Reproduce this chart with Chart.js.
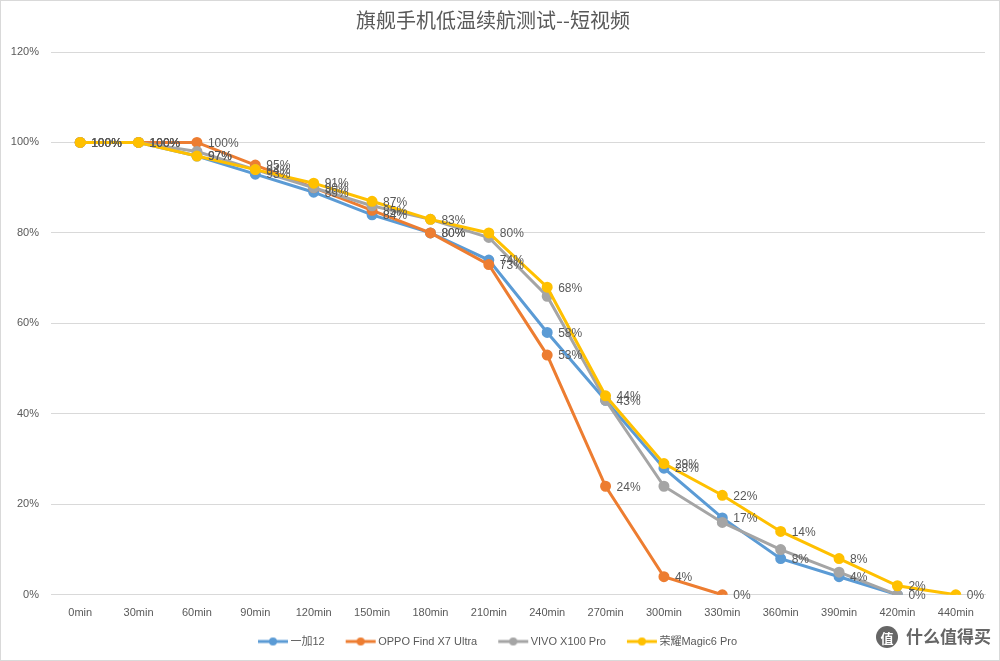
<!DOCTYPE html>
<html>
<head>
<meta charset="utf-8">
<script src="https://cdn.jsdelivr.net/npm/chart.js@4"></script>
<style>
  html, body { margin: 0; padding: 0; background: #fff; }
  #wrap { width: 998px; height: 659px; border: 1px solid #d9d9d9; }
</style>
</head>
<body>
<div id="wrap"><canvas id="myChart" width="998" height="659"></canvas></div>
<script>
const labels = ["0min", "30min", "60min", "90min", "120min", "150min", "180min", "210min",
  "240min", "270min", "300min", "330min", "360min", "390min", "420min", "440min"];

const oneplus = [100, 100, 97, 93, 89, 84, 80, 74, 58, 43, 28, 17, 8, 4, 0, null];
const oppo = [100, 100, 100, 95, 90, 85, 80, 73, 53, 24, 4, 0, null, null, null, null];
const vivo = [100, 100, 98, 94, 90, 86, 83, 79, 66, 43, 24, 16, 10, 5, 0, null];
const honor = [100, 100, 97, 94, 91, 87, 83, 80, 68, 44, 29, 22, 14, 8, 2, 0];

const yTicks = [0, 20, 40, 60, 80, 100, 120];

const names = ["一加12", "OPPO Find X7 Ultra", "VIVO X100 Pro", "荣耀Magic6 Pro"];
const colors = ["#5B9BD5", "#ED7D31", "#A5A5A5", "#FFC000"];
const series = [oneplus, oppo, vivo, honor];
const showLabels = [true, true, false, true];

// legend marker: short line with a dot, pushed right so it sits close to its text
function legendIcon(color) {
  const c = document.createElement("canvas");
  c.width = 44;
  c.height = 10;
  const g = c.getContext("2d");
  g.strokeStyle = color;
  g.lineWidth = 3;
  g.beginPath();
  g.moveTo(13, 5);
  g.lineTo(43, 5);
  g.stroke();
  g.fillStyle = color;
  g.beginPath();
  g.arc(28, 5, 4, 0, Math.PI * 2);
  g.fill();
  return c;
}

const pointLabels = {
  id: "pointLabels",
  afterDatasetsDraw(chart) {
    const ctx = chart.ctx;
    ctx.save();
    ctx.font = "12px 'Liberation Sans', Arial, sans-serif";
    ctx.fillStyle = "#595959";
    ctx.textAlign = "left";
    ctx.textBaseline = "middle";
    chart.data.datasets.forEach((ds, i) => {
      if (!showLabels[i]) return;
      const meta = chart.getDatasetMeta(i);
      meta.data.forEach((pt, j) => {
        const v = ds.data[j];
        if (v === null || v === undefined) return;
        ctx.fillText(v + "%", pt.x + 11, pt.y + 1);
      });
    });
    ctx.restore();
  },
};

const watermark = {
  id: "watermark",
  afterDraw(chart) {
    const ctx = chart.ctx;
    ctx.save();
    ctx.font = "bold 17px 'Noto Sans CJK SC', sans-serif";
    ctx.fillStyle = "#666";
    ctx.textAlign = "right";
    ctx.textBaseline = "middle";
    ctx.fillText("什么值得买", 990, 636);
    ctx.beginPath();
    ctx.arc(886, 636, 11, 0, Math.PI * 2);
    ctx.fill();
    ctx.fillStyle = "#fff";
    ctx.font = "bold 13px 'Noto Sans CJK SC', sans-serif";
    ctx.textAlign = "center";
    ctx.fillText("值", 886, 637);
    ctx.restore();
  },
};

const datasets = series.map((d, i) => ({
  label: names[i],
  data: d,
  borderColor: colors[i],
  backgroundColor: colors[i],
  borderWidth: 3,
  pointRadius: 4,
  pointBackgroundColor: colors[i],
  pointBorderColor: colors[i],
  tension: 0,
  spanGaps: false,
  order: 3 - i, // later series drawn on top, like Excel
}));

new Chart(document.getElementById("myChart"), {
  type: "line",
  data: { labels: labels, datasets: datasets },
  plugins: [pointLabels, watermark],
  options: {
    responsive: false,
    animation: false,
    layout: { padding: { left: 0, right: 14, top: 0, bottom: 3 } },
    plugins: {
      title: {
        display: true,
        text: "旗舰手机低温续航测试--短视频",
        color: "#595959",
        font: { size: 20, family: "'Noto Sans CJK SC', sans-serif", weight: "normal" },
        padding: { top: 7, bottom: 20 },
      },
      legend: {
        position: "bottom",
        labels: {
          usePointStyle: true,
          pointStyleWidth: 36,
          color: "#595959",
          font: { size: 11, family: "'Liberation Sans', 'Noto Sans CJK SC', sans-serif" },
          padding: 12,
          generateLabels: (chart) =>
            chart.data.datasets.map((ds, i) => ({
              text: ds.label,
              fillStyle: colors[i],
              strokeStyle: colors[i],
              pointStyle: legendIcon(colors[i]),
              datasetIndex: i,
              fontColor: "#595959",
            })),
        },
      },
      tooltip: { enabled: false },
    },
    scales: {
      x: {
        offset: true,
        grid: { display: false },
        border: { color: "#d9d9d9" },
        ticks: {
          color: "#595959",
          font: { size: 11, family: "'Liberation Sans', Arial, sans-serif" },
          padding: 4,
          maxRotation: 0,
          autoSkip: false,
        },
      },
      y: {
        min: 0,
        max: 120,
        afterFit: (s) => { s.width = 50; },
        afterBuildTicks: (s) => { s.ticks = yTicks.map((v) => ({ value: v })); },
        grid: { color: "#d9d9d9", drawTicks: false },
        border: { display: false },
        ticks: {
          color: "#595959",
          font: { size: 11, family: "'Liberation Sans', Arial, sans-serif" },
          padding: 12,
          callback: (v) => v + "%",
        },
      },
    },
  },
});
</script>
</body>
</html>
